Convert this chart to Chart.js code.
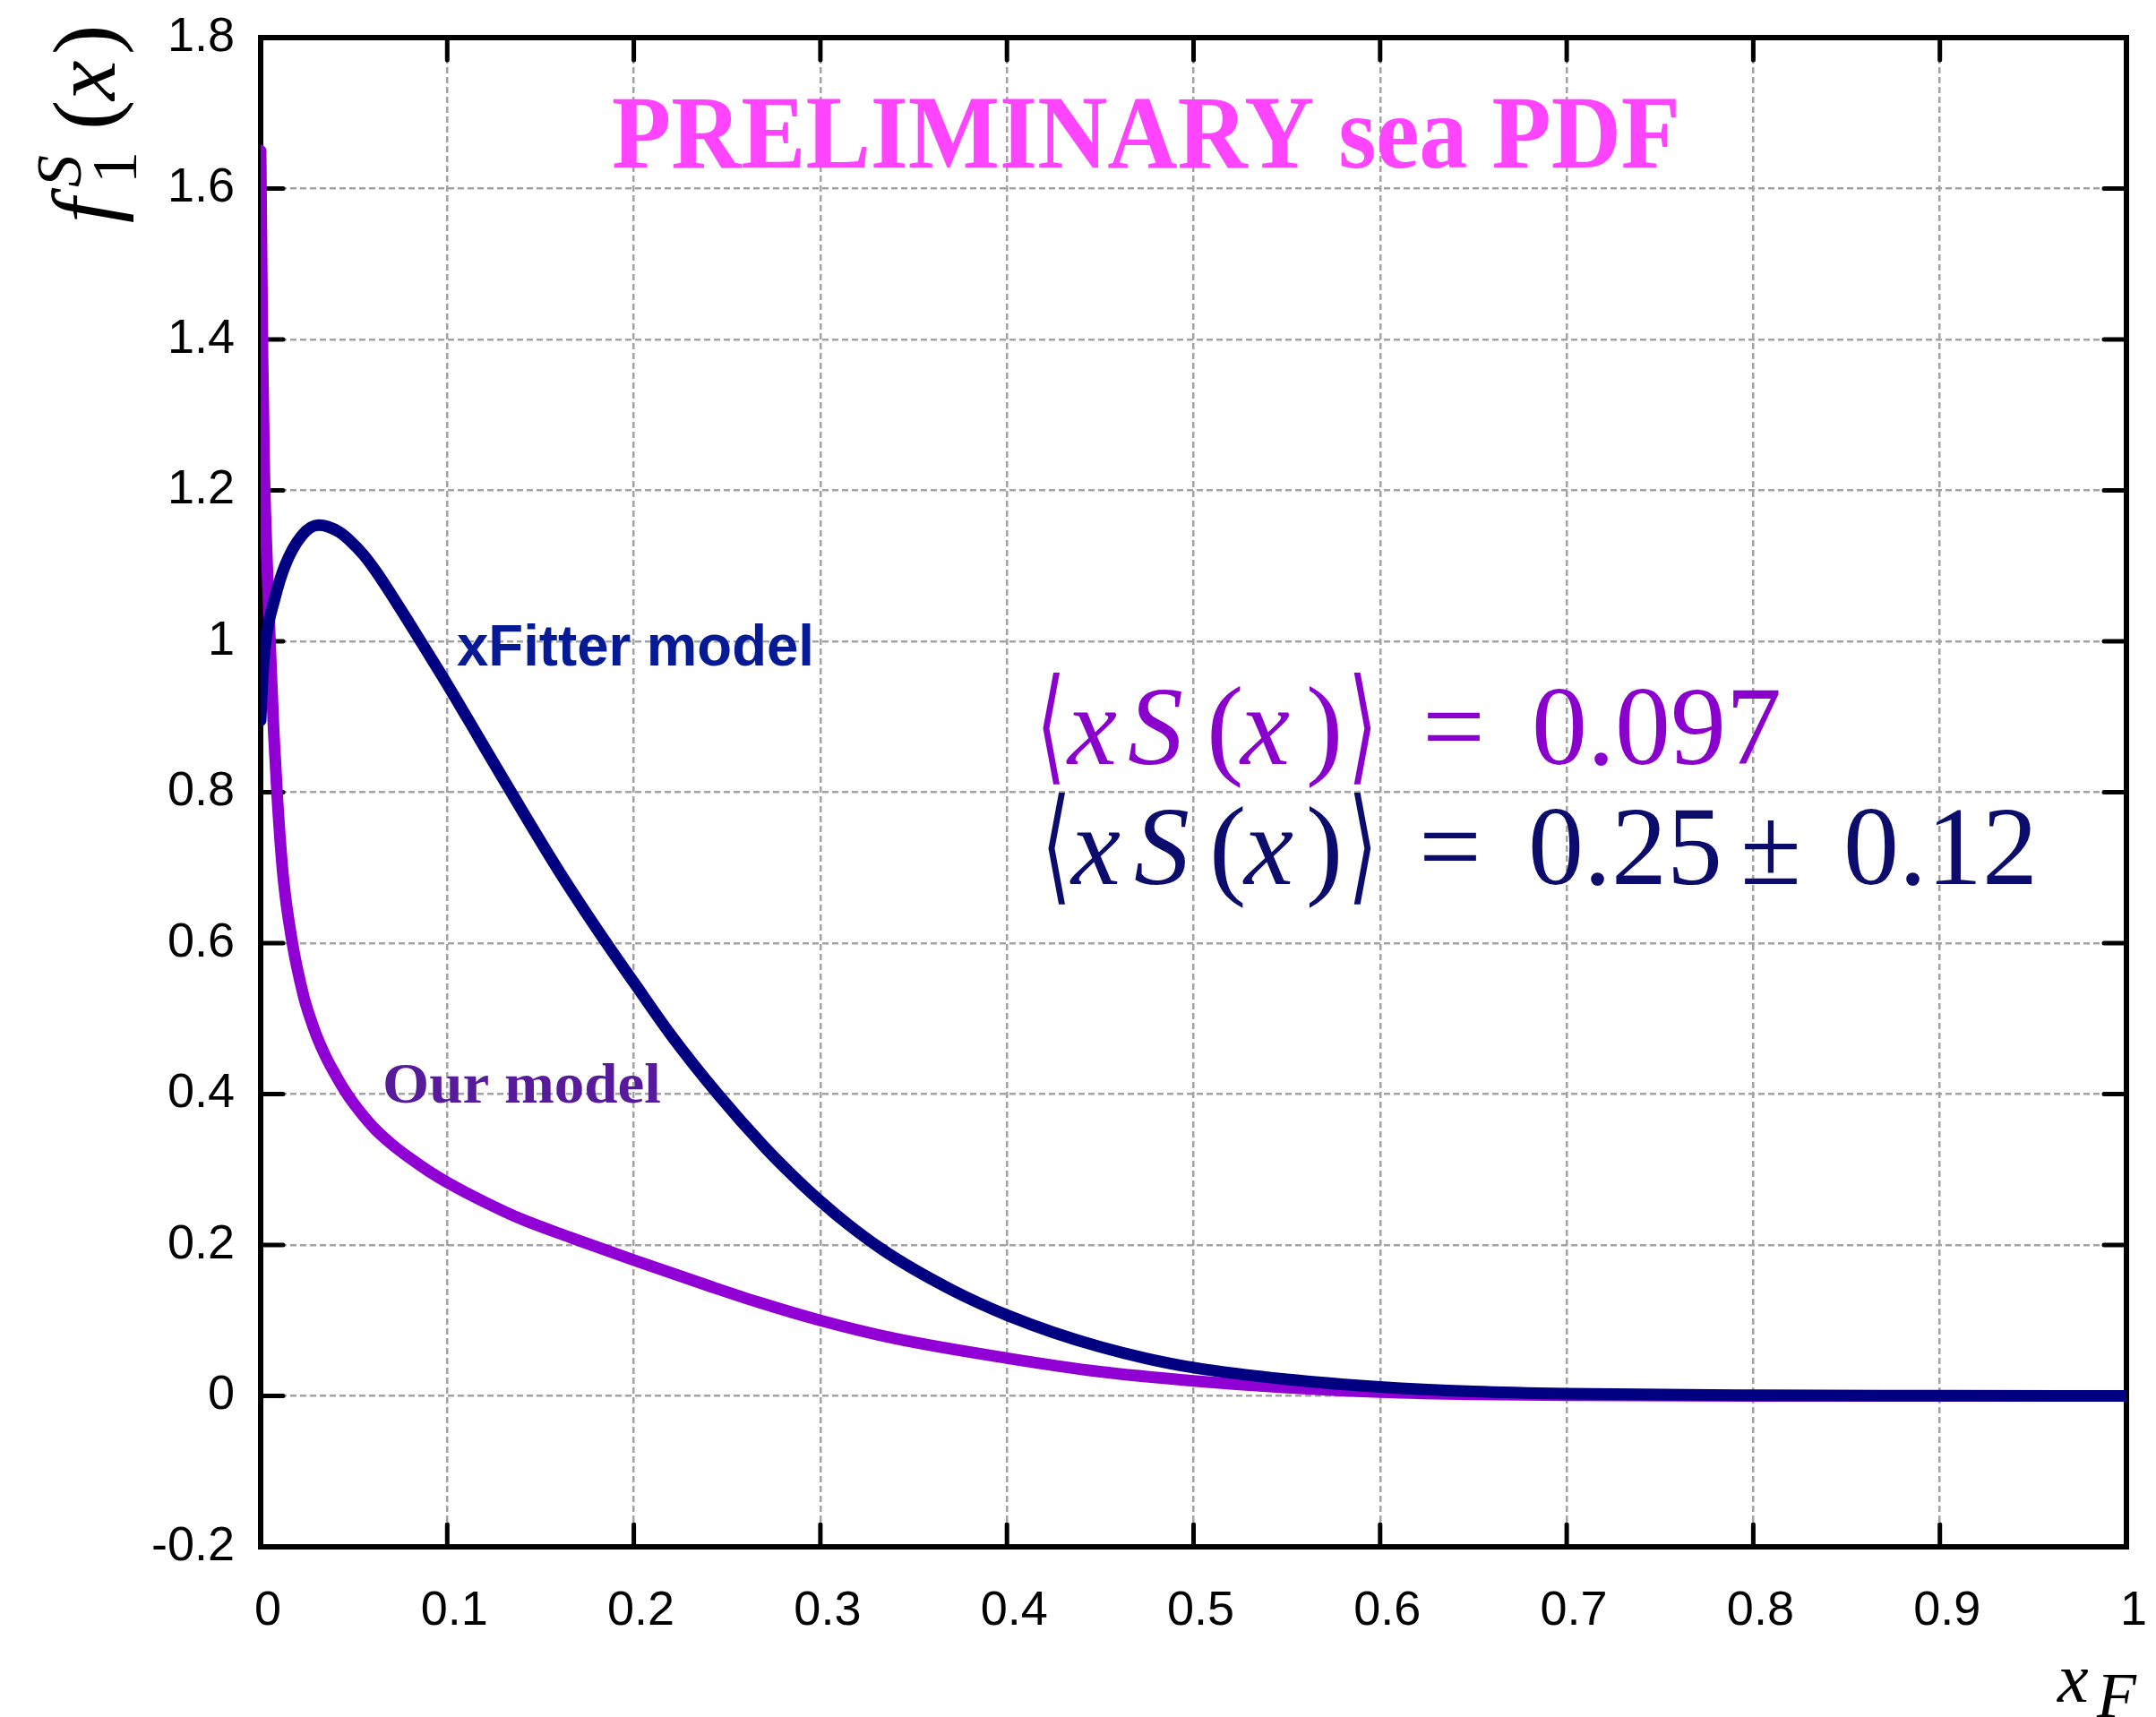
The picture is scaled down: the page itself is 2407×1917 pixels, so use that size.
<!DOCTYPE html>
<html>
<head>
<meta charset="utf-8">
<script src="https://cdn.jsdelivr.net/npm/chart.js@4.4.1/dist/chart.umd.min.js"></script>
<style>
  html, body { margin: 0; padding: 0; background: #fff; }
  canvas { display: block; }
</style>
</head>
<body>
<canvas id="pdfChart" width="2407" height="1917"></canvas>
<script>
// Values
const ourX = [0, 0.001, 0.002, 0.0035, 0.005, 0.007, 0.009, 0.012, 0.017, 0.023, 0.026, 0.03, 0.035, 0.04, 0.045, 0.05, 0.06, 0.07, 0.08, 0.09, 0.1, 0.12, 0.14, 0.166, 0.2, 0.24, 0.267, 0.3, 0.34, 0.4, 0.45, 0.5, 0.55, 0.6, 0.65, 0.7, 0.8, 0.9, 1.0];
const ourY = [1.65, 1.38, 1.22, 1.1, 1.0, 0.88, 0.79, 0.69, 0.6, 0.53, 0.505, 0.477, 0.449, 0.426, 0.405, 0.387, 0.357, 0.334, 0.315, 0.298, 0.283, 0.257, 0.234, 0.21, 0.18, 0.146, 0.124, 0.1, 0.076, 0.05, 0.032, 0.02, 0.011, 0.005, 0.002, 0.001, 0, 0, 0];

const xfX = [0, 0.001, 0.0027, 0.0073, 0.013, 0.022, 0.031, 0.036, 0.042, 0.048, 0.055, 0.062, 0.07, 0.078, 0.087, 0.1, 0.117, 0.134, 0.16, 0.1845, 0.2, 0.22, 0.245, 0.27, 0.285, 0.3, 0.315, 0.332, 0.35, 0.37, 0.385, 0.4, 0.425, 0.45, 0.475, 0.5, 0.55, 0.6, 0.65, 0.7, 0.8, 0.9, 1.0];
const xfY = [0.895, 0.95, 1.0, 1.054, 1.10, 1.14, 1.154, 1.152, 1.145, 1.133, 1.115, 1.092, 1.062, 1.031, 0.995, 0.943, 0.872, 0.801, 0.695, 0.603, 0.548, 0.478, 0.4, 0.33, 0.2925, 0.258, 0.227, 0.196, 0.168, 0.141, 0.123, 0.107, 0.084, 0.065, 0.0495, 0.0375, 0.022, 0.012, 0.006, 0.003, 0.0008, 0.0002, 0];

const xTickLabels = ['0', '0.1', '0.2', '0.3', '0.4', '0.5', '0.6', '0.7', '0.8', '0.9', '1'];
const yTickLabels = ['-0.2', '0', '0.2', '0.4', '0.6', '0.8', '1', '1.2', '1.4', '1.6', '1.8'];

const SERIF = "'Liberation Serif', 'DejaVu Serif', serif";
const SANS = "'Liberation Sans', Arial, sans-serif";
const BRACKET = "'DejaVu Sans', 'DejaVu Serif', serif";
const PURPLE = '#9000d4';
const NAVY = '#000080';

function toPoints(xs, ys) {
    return xs.map((x, i) => ({ x: x, y: ys[i] }));
}

// draw a string so that it takes a given width
function fitText(ctx, text, font, color, left, baseline, width) {
    ctx.save();
    ctx.font = font;
    ctx.fillStyle = color;
    ctx.textBaseline = 'alphabetic';
    ctx.textAlign = 'left';
    const w = ctx.measureText(text).width;
    ctx.translate(left, baseline);
    ctx.scale(width / w, 1);
    ctx.fillText(text, 0, 0);
    ctx.restore();
}

// pieces: [text, offset, style, size, dy]  style: 'i' italic, 'r' roman, 'b' bracket
function drawPieces(ctx, pieces, color, left, baseline) {
    ctx.save();
    ctx.fillStyle = color;
    ctx.textBaseline = 'alphabetic';
    ctx.textAlign = 'left';
    pieces.forEach(p => {
        const px = left + p[1];
        const py = baseline + (p[4] || 0);
        if (p[2] === 'b') {
            // angle brackets: squeezed so they look thin and tall
            ctx.save();
            ctx.font = p[3] + 'px ' + BRACKET;
            ctx.translate(px, py);
            ctx.scale(0.6, 1);
            ctx.fillText(p[0], 0, 0);
            ctx.restore();
        } else {
            ctx.font = (p[2] === 'i' ? 'italic ' : '') + p[3] + 'px ' + SERIF;
            ctx.fillText(p[0], px, py);
        }
    });
    ctx.restore();
}

const framePlugin = {
    id: 'frame',
    beforeDatasetsDraw(chart) {
        const { ctx, chartArea: a, scales } = chart;
        const tick = 25;
        ctx.save();
        ctx.strokeStyle = '#000';
        ctx.lineCap = 'round';
        ctx.lineWidth = 5;
        ctx.beginPath();
        scales.x.ticks.forEach(t => {
            const px = scales.x.getPixelForValue(t.value);
            ctx.moveTo(px, a.bottom); ctx.lineTo(px, a.bottom - tick);
            ctx.moveTo(px, a.top); ctx.lineTo(px, a.top + tick);
        });
        scales.y.ticks.forEach(t => {
            const py = scales.y.getPixelForValue(t.value);
            ctx.moveTo(a.left, py); ctx.lineTo(a.left + tick, py);
            ctx.moveTo(a.right, py); ctx.lineTo(a.right - tick, py);
        });
        ctx.stroke();
        ctx.lineCap = 'butt';
        ctx.lineJoin = 'miter';
        ctx.lineWidth = 6;
        ctx.strokeRect(a.left, a.top, a.right - a.left, a.bottom - a.top);
        ctx.restore();
    }
};

const textPlugin = {
    id: 'labels',
    afterDraw(chart) {
        const ctx = chart.ctx;

        // y axis title f_1^S(x), rotated
        ctx.save();
        ctx.translate(128, 257);
        ctx.rotate(-Math.PI / 2);
        drawPieces(ctx, [
            ['f', 8, 'i', 100],
            ['S', 48, 'i', 72, -38],
            ['1', 52, 'r', 72, 24],
            ['(', 112, 'r', 100],
            ['x', 145, 'i', 100],
            [')', 196, 'r', 100]
        ], '#000', 0, 0);
        ctx.restore();

        // x axis title x_F
        drawPieces(ctx, [
            ['x', 0, 'i', 78],
            ['F', 44, 'i', 72, 17]
        ], '#000', 2297, 1900);

        fitText(ctx, 'PRELIMINARY sea PDF', 'bold 116px ' + SERIF, '#ff44ff', 683, 187, 1193);
        fitText(ctx, 'xFitter model', 'bold 64px ' + SANS, '#061a96', 510, 743, 399);
        fitText(ctx, 'Our model', 'bold 64px ' + SERIF, '#561a9a', 427, 1231, 311);

        drawPieces(ctx, [
            ['\u27E8', 2, 'b', 140, 4],
            ['x', 37, 'i', 124],
            ['S', 104, 'i', 124],
            ['(', 192, 'r', 124],
            ['x', 230, 'i', 124],
            [')', 303, 'r', 124],
            ['\u27E9', 350, 'b', 140, 4],
            ['=', 433, 'r', 124],
            ['0.097', 555, 'r', 124]
        ], '#8a00cc', 1155, 853);

        drawPieces(ctx, [
            ['\u27E8', 2, 'b', 140, 4],
            ['x', 35, 'i', 124],
            ['S', 105, 'i', 124],
            ['(', 189, 'r', 124],
            ['x', 228, 'i', 124],
            [')', 297, 'r', 124],
            ['\u27E9', 344, 'b', 140, 4],
            ['=', 423, 'r', 124],
            ['0.25', 545, 'r', 124],
            ['\u00B1', 782, 'r', 124],
            ['0.12', 897, 'r', 124]
        ], '#0c0c6c', 1161, 987);
    }
};

const ctx = document.getElementById('pdfChart').getContext('2d');

new Chart(ctx, {
    type: 'line',
    data: {
        datasets: [
            {
                label: 'xFitter model',
                data: toPoints(xfX, xfY),
                borderColor: NAVY,
                borderWidth: 13,
                order: 0
            },
            {
                label: 'Our model',
                data: toPoints(ourX, ourY),
                borderColor: PURPLE,
                borderWidth: 13,
                order: 1
            }
        ]
    },
    options: {
        responsive: false,
        devicePixelRatio: 1,
        animation: false,
        layout: { padding: { left: 0, right: 33, top: 42, bottom: 0 } },
        elements: {
            point: { radius: 0 },
            line: {
                cubicInterpolationMode: 'monotone',
                borderCapStyle: 'round',
                borderJoinStyle: 'round',
                fill: false
            }
        },
        plugins: {
            legend: { display: false },
            tooltip: { enabled: false }
        },
        scales: {
            x: {
                type: 'linear',
                min: 0,
                max: 1,
                afterFit: (scale) => {
                    scale.height = 190;
                    scale.paddingLeft = 0;
                    scale.paddingRight = 0;
                },
                ticks: {
                    stepSize: 0.1,
                    autoSkip: false,
                    maxRotation: 0,
                    padding: 40,
                    labelOffset: 8,
                    color: '#000',
                    font: { family: SANS, size: 54 },
                    callback: (v, i) => xTickLabels[i]
                },
                grid: { color: '#a3a3a3', lineWidth: 2.5, drawTicks: false },
                border: { display: false, dash: [7, 4] }
            },
            y: {
                type: 'linear',
                min: -0.2,
                max: 1.8,
                afterFit: (scale) => {
                    scale.width = 291;
                    scale.paddingTop = 0;
                    scale.paddingBottom = 0;
                },
                ticks: {
                    stepSize: 0.2,
                    autoSkip: false,
                    padding: 29,
                    color: '#000',
                    font: { family: SANS, size: 54 },
                    callback: (v, i) => yTickLabels[i]
                },
                grid: { color: '#a3a3a3', lineWidth: 2.5, drawTicks: false },
                border: { display: false, dash: [7, 4] }
            }
        }
    },
    plugins: [framePlugin, textPlugin]
});
</script>
</body>
</html>
